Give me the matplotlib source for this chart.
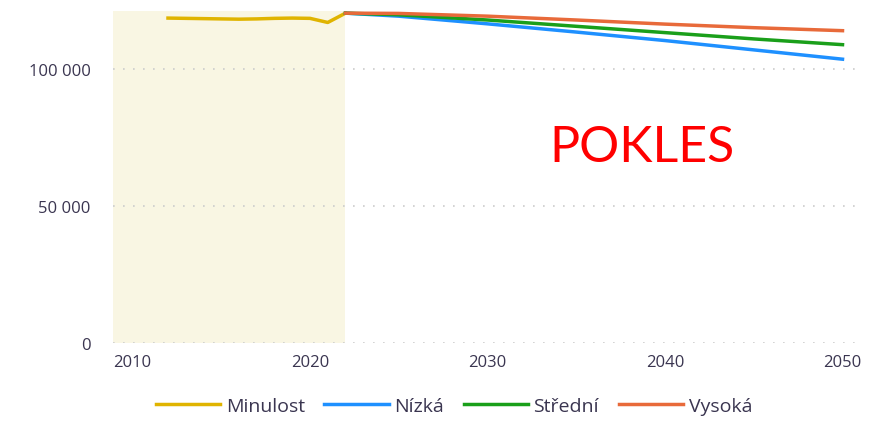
import numpy as np
import matplotlib.pyplot as plt
from matplotlib.ticker import FuncFormatter

past_years = [2012, 2013, 2014, 2015, 2016, 2017, 2018, 2019, 2020, 2021, 2022]
past_vals = [118600, 118500, 118400, 118300, 118200, 118300, 118500, 118600, 118500, 117000, 120400]

proj_years = [2022, 2025, 2030, 2035, 2040, 2045, 2050]
low_vals = [120400, 119300, 116500, 113500, 110400, 107000, 103600]
mid_vals = [120400, 119800, 117900, 115600, 113300, 111000, 108900]
high_vals = [120400, 120300, 119300, 117900, 116400, 115100, 114000]

plt.rcParams['font.family'] = ['Open Sans', 'DejaVu Sans']

fig = plt.figure(figsize=(8.73, 4.27), dpi=100)
ax = fig.add_axes([0.1294, 0.194, 0.856, 0.778])

ax.axvspan(2008.9, 2022, color='#f9f6e3', zorder=0, lw=0)

ax.plot(past_years, past_vals, color='#e0b400', lw=2.5, label='Minulost', zorder=3)
ax.plot(proj_years, low_vals, color='#1e90ff', lw=2.5, label='Nízká', zorder=3)
ax.plot(proj_years, mid_vals, color='#1a9f1a', lw=2.5, label='Střední', zorder=3)
ax.plot(proj_years, high_vals, color='#e86a3a', lw=2.5, label='Vysoká', zorder=3)

ax.set_xlim(2008.9, 2051)
ax.set_ylim(0, 121200)
ax.set_xticks([2010, 2020, 2030, 2040, 2050])
ax.set_yticks([0, 50000, 100000])
ax.yaxis.set_major_formatter(FuncFormatter(lambda v, p: f"{int(v):,}".replace(",", " ")))
ax.grid(axis='y', color='#cccccc', linestyle=(0, (1, 5)), lw=1.2)
for s in ax.spines.values():
    s.set_visible(False)
ax.tick_params(length=0, labelsize=12, labelcolor='#3a3550', pad=8)
ax.tick_params(axis='y', pad=16)

ax.text(2038.7, 71500, 'POKLES', color='#ff0000', fontsize=36,
        ha='center', va='center', family=['Lato', 'DejaVu Sans'])

fig.legend(loc='lower center', bbox_to_anchor=(0.52, -0.015), ncol=4, frameon=False,
           fontsize=14, handlelength=3.3, handletextpad=0.3, columnspacing=1.0,
           labelcolor='#3a3550')

fig.savefig('out.png', dpi=100)
